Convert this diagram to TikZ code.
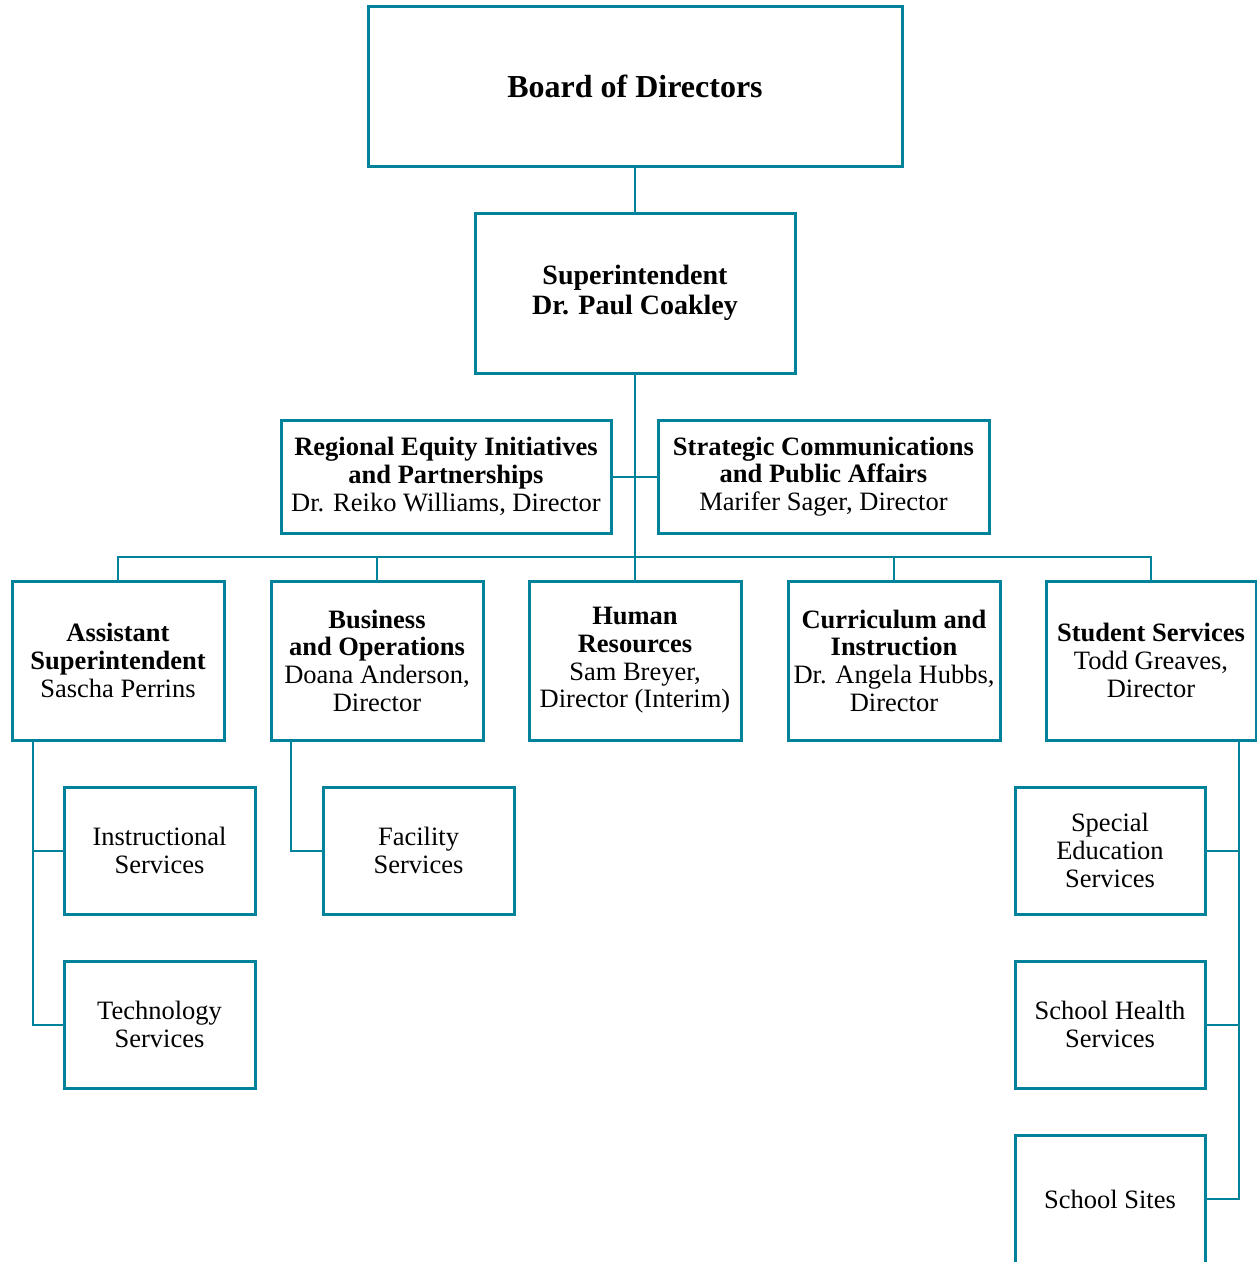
\documentclass[tikz,border=0pt]{standalone}
\usepackage{fontspec}
\setmainfont{Liberation Serif}
\definecolor{teal2}{RGB}{0,130,155}
\begin{document}
\begin{tikzpicture}[x=1pt,y=-1pt,
  box/.style={draw=teal2,line width=3pt,fill=white,align=center,inner sep=0pt,
    font=\fontsize{26.5}{27.7}\selectfont},
  unit/.style={box,minimum width=212pt,minimum height=159pt},
  sub/.style={box,minimum width=191pt,minimum height=127pt},
  conn/.style={draw=teal2,line width=2pt}]
\useasboundingbox (0,0) rectangle (1257,1262);

\coordinate (busc) at (635,557);

\node[box,minimum width=534pt,minimum height=160pt,font=\fontsize{32}{36}\selectfont\bfseries] (board) at (635,86) {Board of Directors};
\node[box,minimum width=320pt,minimum height=160pt,font=\fontsize{28}{30.5}\selectfont\bfseries] (sup) at (635,293) {Superintendent\\Dr. Paul Coakley};

\node[box,minimum width=330pt,minimum height=113pt] (reg) at (446,476.5) {\textbf{Regional Equity Initiatives}\\\textbf{and Partnerships}\\Dr. Reiko Williams, Director};
\node[box,minimum width=331pt,minimum height=113pt] (strat) at (823.5,476.5) {\textbf{Strategic Communications}\\\textbf{and Public Affairs}\\Marifer Sager, Director};

\node[unit] (asst) at (118,660.5) {\textbf{Assistant}\\\textbf{Superintendent}\\Sascha Perrins};
\node[unit] (busop) at (377,660.5) {\textbf{Business}\\\textbf{and Operations}\\Doana Anderson,\\Director};
\node[unit] (hr) at (635,660.5) {\textbf{Human}\\\textbf{Resources}\\Sam Breyer,\\Director (Interim)};
\node[unit] (cur) at (894,660.5) {\textbf{Curriculum and}\\\textbf{Instruction}\\Dr. Angela Hubbs,\\Director};
\node[unit,minimum width=210pt] (stud) at (1151,660.5) {\textbf{Student Services}\\Todd Greaves,\\Director};

\node[sub] (instr) at (159.5,850.5) {Instructional\\Services};
\node[sub] (tech) at (159.5,1024.5) {Technology\\Services};
\node[sub] (fac) at (418.5,850.5) {Facility\\Services};
\node[sub,minimum width=190pt] (sped) at (1110,850.5) {Special\\Education\\Services};
\node[sub,minimum width=190pt] (health) at (1110,1024.5) {School Health\\Services};
\node[sub,minimum width=190pt,minimum height=128pt] (sites) at (1110,1199) {School Sites};

\draw[conn] (board.south) -- (sup.north);
\draw[conn] (sup.south) -- (hr.north);
\draw[conn] (reg.east) -- (strat.west);
\draw[conn] (asst.north) |- (busc) -| (stud.north);
\draw[conn] (busop.north) -- (busop.north |- busc);
\draw[conn] (cur.north) -- (cur.north |- busc);
\draw[conn] ([xshift=22pt]asst.south west) |- (instr.west);
\draw[conn] ([xshift=22pt]asst.south west) |- (tech.west);
\draw[conn] ([xshift=21pt]busop.south west) |- (fac.west);
\draw[conn] ([xshift=-19pt]stud.south east) |- (sped.east);
\draw[conn] ([xshift=-19pt]stud.south east) |- (health.east);
\draw[conn] ([xshift=-19pt]stud.south east) |- (sites.east);
\end{tikzpicture}
\end{document}
